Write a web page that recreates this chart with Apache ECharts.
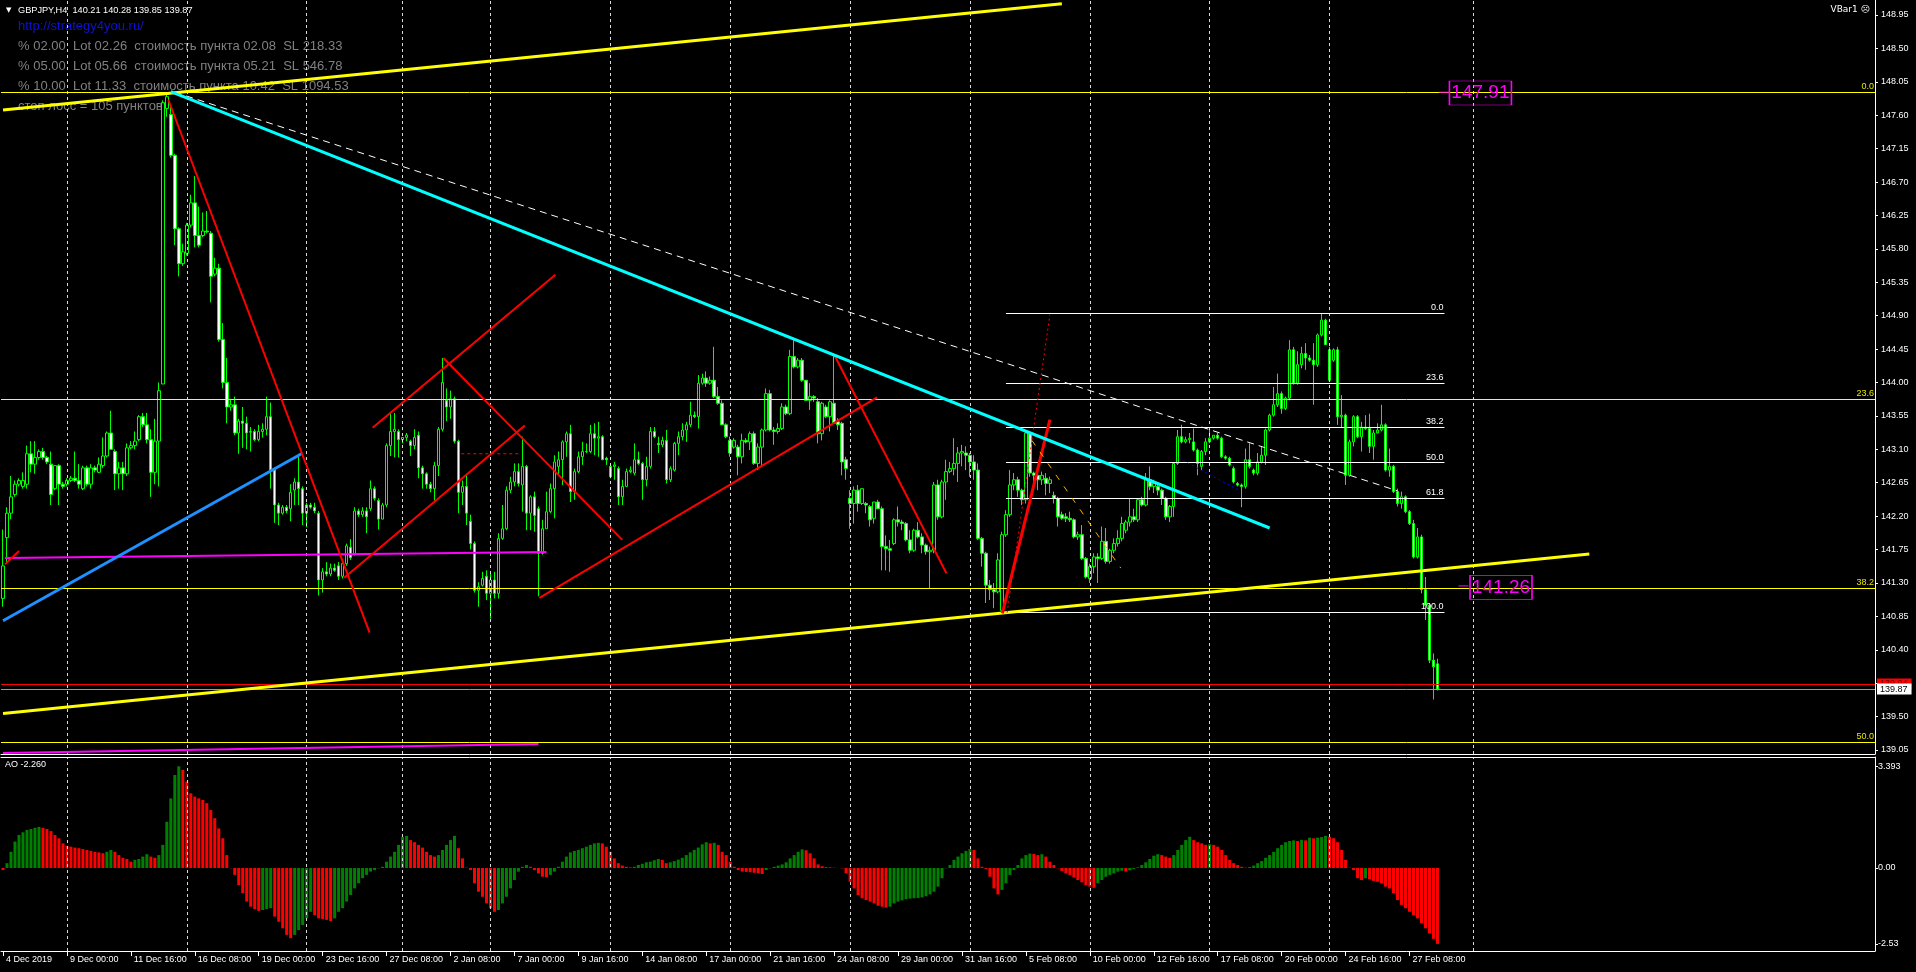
<!DOCTYPE html>
<html><head><meta charset="utf-8">
<script src="https://cdn.jsdelivr.net/npm/echarts@6.0.0/dist/echarts.min.js"></script>
<style>html,body{margin:0;padding:0;background:#000;overflow:hidden}#c{width:1916px;height:972px}</style>
</head><body><div id="c"></div>
<script>
// ---------- DATA (GBPJPY H4) ----------
const opens = [
141.09,141.91,142.24,142.49,142.63,142.60,142.63,143.04,142.90,142.99,
143.07,142.99,142.90,142.57,142.88,142.63,142.63,142.68,142.71,142.68,
142.57,142.85,142.63,142.85,142.79,142.88,143.01,143.32,143.07,142.77,
142.85,142.77,143.12,143.15,143.23,143.54,143.43,143.23,142.79,143.21,
143.98,147.69,147.61,147.06,146.07,145.60,145.74,146.12,146.42,145.98,
145.98,146.04,146.01,145.46,145.54,144.58,144.00,143.67,143.70,143.32,
143.48,143.45,143.33,143.34,143.23,143.34,143.37,143.54,142.82,142.35,
142.24,142.32,142.30,142.55,142.66,142.57,142.24,142.35,142.32,142.24,
141.34,141.45,141.42,141.50,141.53,141.39,141.56,141.78,141.69,142.27,
142.22,142.27,142.30,142.57,142.41,142.16,142.35,143.15,143.34,143.34,
143.23,143.26,143.21,143.15,143.29,142.85,142.77,142.63,142.57,142.88,
143.37,143.76,143.67,143.78,143.21,142.52,142.60,142.13,141.83,141.20,
141.27,141.39,141.16,141.34,141.16,141.90,142.03,142.55,142.66,142.80,
142.62,142.87,142.24,142.46,142.30,141.70,142.03,142.26,142.57,142.87,
142.96,143.20,143.31,142.53,142.80,143.00,143.07,143.07,143.31,143.25,
143.27,142.98,142.87,142.87,142.84,142.46,142.60,142.80,142.78,142.96,
142.91,142.69,142.87,143.34,143.18,143.16,143.22,142.69,142.82,143.18,
143.27,143.36,143.43,143.56,143.54,143.99,144.06,143.99,144.03,143.81,
143.72,143.43,143.22,143.13,143.13,143.00,143.22,143.20,143.31,142.91,
143.13,143.36,143.85,143.36,143.34,143.38,143.67,143.58,144.35,144.21,
144.30,144.03,143.76,143.81,143.74,143.31,143.67,143.54,143.72,143.47,
143.45,142.96,142.44,142.37,142.55,142.37,142.37,142.33,142.17,142.39,
142.30,141.79,141.76,141.83,142.15,142.12,142.10,141.88,141.74,142.01,
141.92,141.81,141.72,141.74,142.62,142.19,142.66,142.80,142.84,142.91,
143.05,143.05,143.02,142.93,142.82,141.90,141.70,141.27,141.21,141.18,
140.93,141.95,142.22,142.62,142.69,142.55,142.42,143.32,142.78,142.75,
142.69,142.71,142.64,142.48,142.44,142.22,142.19,142.17,142.15,141.92,
141.95,141.63,141.36,141.52,141.65,141.63,141.86,141.59,141.74,141.83,
141.90,142.01,142.12,142.19,142.15,142.42,142.35,142.69,142.60,142.60,
142.55,142.44,142.19,142.33,142.91,143.27,143.20,143.23,143.20,143.09,
142.87,143.07,143.20,143.25,143.29,143.25,143.00,142.98,142.84,142.64,
142.62,142.60,142.96,142.82,142.78,142.93,143.02,143.36,143.56,143.70,
143.85,143.65,143.79,144.44,143.99,144.24,144.39,144.33,144.30,144.24,
144.64,144.84,144.44,144.30,144.44,143.54,143.56,142.75,143.20,143.54,
143.27,143.40,143.38,143.14,143.32,143.36,143.43,142.82,142.87,142.53,
142.37,142.46,142.26,142.10,141.65,141.92,141.21,141.00,140.26,140.21];
const highs = [
142.02,142.32,142.74,142.68,142.71,142.79,143.15,143.21,143.21,143.10,
143.12,143.01,143.07,142.88,142.90,142.66,142.71,142.74,143.07,142.90,
142.88,142.88,142.90,142.88,142.99,143.26,143.34,143.62,143.10,142.93,
142.93,143.18,143.21,143.34,143.56,143.59,143.59,143.37,143.51,144.00,
147.80,147.88,147.74,147.08,146.09,145.87,146.15,146.53,146.78,146.37,
146.29,146.31,146.04,145.68,145.60,144.80,144.33,143.78,143.81,143.51,
143.67,143.54,143.40,143.37,143.43,143.45,143.81,143.73,142.85,142.38,
142.35,142.35,142.63,142.71,143.04,142.60,142.38,142.38,142.38,142.27,
141.50,141.58,141.56,141.56,141.58,141.58,141.83,141.89,142.32,142.30,
142.32,142.32,142.68,142.60,142.44,142.38,143.18,143.59,143.59,143.37,
143.26,143.32,143.23,143.37,143.34,142.88,142.79,142.66,142.93,143.40,
144.33,143.92,143.89,143.81,143.23,142.68,142.77,142.22,141.86,141.31,
141.45,141.47,141.43,141.45,141.97,142.35,142.60,142.73,142.91,142.91,
143.27,142.89,142.48,142.53,142.33,142.15,142.53,142.64,143.02,143.07,
143.22,143.34,143.43,142.84,143.07,143.20,143.18,143.43,143.45,143.47,
143.29,143.00,142.91,142.93,142.87,142.69,142.84,142.87,143.18,143.07,
142.93,143.00,143.40,143.40,143.27,143.27,143.36,142.87,143.20,143.34,
143.45,143.47,143.74,143.61,144.10,144.12,144.15,144.08,144.48,143.94,
143.76,143.45,143.27,143.25,143.16,143.31,143.25,143.34,143.34,143.18,
143.38,143.92,143.90,143.40,143.45,143.72,143.70,144.44,144.57,144.33,
144.33,144.03,143.99,143.83,143.79,143.74,143.70,143.76,144.37,143.52,
143.47,143.00,142.55,142.60,142.62,142.57,142.39,142.35,142.39,142.42,
142.33,141.94,141.88,142.17,142.33,142.15,142.12,142.01,142.03,142.12,
141.97,141.83,141.79,142.66,142.69,142.69,142.96,142.93,143.25,143.13,
143.16,143.14,143.05,143.02,142.91,141.92,141.72,141.34,141.30,141.70,
141.99,142.28,142.82,142.78,142.73,142.57,143.34,143.34,142.80,142.78,
142.80,142.78,142.73,142.53,142.46,142.26,142.24,142.26,142.17,141.99,
142.08,141.65,141.56,141.70,141.70,142.06,142.04,141.76,141.90,142.01,
142.19,142.15,142.44,142.30,142.44,142.46,142.78,142.87,142.69,142.64,
142.57,142.46,142.35,142.93,143.36,143.43,143.27,143.32,143.38,143.11,
143.09,143.25,143.36,143.29,143.32,143.27,143.02,143.00,142.87,142.66,
142.64,143.11,143.18,142.84,143.05,143.14,143.38,143.58,143.94,144.12,
143.88,143.81,144.57,144.48,144.42,144.48,144.53,144.37,144.53,144.66,
144.93,144.86,144.48,144.46,144.48,143.83,143.58,143.23,143.56,143.56,
143.47,143.56,143.58,143.36,143.45,143.70,143.45,143.11,142.89,142.57,
142.53,142.48,142.28,142.15,142.04,141.95,141.38,141.03,140.35,140.28];
const lows = [
140.98,141.58,142.16,142.46,142.60,142.57,142.57,142.79,142.77,142.96,
142.96,142.90,142.35,142.55,142.35,142.57,142.60,142.66,142.66,142.57,
142.55,142.60,142.57,142.79,142.78,142.85,142.99,143.10,142.55,142.57,
142.55,142.74,143.10,143.10,143.21,143.40,143.18,142.46,142.63,142.60,
143.98,147.58,147.03,145.85,145.43,145.57,145.71,146.09,145.82,145.82,
145.96,146.01,145.08,145.43,144.55,143.92,143.45,143.62,143.29,143.04,
143.12,143.10,143.07,143.21,143.21,143.26,143.29,142.57,142.11,142.08,
142.22,142.24,142.13,142.35,142.35,142.08,142.05,142.30,142.24,141.13,
141.17,141.39,141.39,141.45,141.34,141.36,141.53,141.61,141.67,142.19,
142.19,141.97,142.27,142.41,142.02,142.16,142.32,143.01,142.99,142.99,
143.18,143.21,143.01,143.10,142.71,142.57,142.57,142.52,142.41,142.74,
143.34,143.48,143.51,143.18,142.24,142.35,142.08,141.75,141.17,140.98,
141.25,141.07,140.82,141.09,141.09,141.88,142.01,142.51,142.60,142.60,
142.26,142.01,142.01,141.99,141.12,141.68,142.03,142.24,142.17,142.75,
142.62,143.00,142.39,142.42,142.78,142.89,143.05,143.05,143.02,143.00,
142.96,142.89,142.71,142.69,142.35,142.35,142.60,142.78,142.75,142.89,
142.42,142.60,142.84,143.25,143.05,143.13,142.64,142.66,142.80,143.02,
143.22,143.20,143.40,143.52,143.38,143.97,143.94,143.97,143.79,143.70,
143.43,143.25,143.00,143.11,142.75,142.91,143.18,143.09,142.89,142.82,
142.87,143.34,143.34,143.16,143.31,143.36,143.56,143.56,144.19,144.19,
144.01,143.76,143.63,143.74,143.18,143.22,143.52,143.34,143.45,143.36,
142.75,142.69,142.03,142.10,142.26,142.35,142.24,142.06,142.10,142.30,
141.47,141.47,141.45,141.81,142.06,142.01,141.86,141.70,141.72,141.90,
141.70,141.68,141.23,141.70,142.15,142.17,142.42,142.78,142.75,142.66,
142.87,142.82,142.73,142.69,141.88,141.52,141.03,141.07,140.96,141.16,
140.90,141.92,142.19,142.55,142.46,142.35,142.37,142.73,142.60,142.55,
142.62,142.48,142.51,142.37,142.06,142.15,142.12,142.12,141.90,141.88,
141.61,141.36,141.30,141.43,141.30,141.61,141.56,141.56,141.70,141.79,
141.86,141.97,142.06,142.12,142.12,142.33,142.33,142.55,142.51,142.48,
142.35,142.15,142.12,142.19,142.89,143.18,143.18,143.18,143.07,142.75,
142.82,143.02,143.18,143.23,143.23,142.98,142.96,142.87,142.64,142.60,
142.32,142.57,142.84,142.75,142.75,142.91,142.89,143.34,143.54,143.67,
143.58,143.63,143.76,143.97,143.97,144.19,144.17,144.28,143.70,144.21,
144.62,144.51,144.01,144.28,143.43,143.40,142.62,142.73,143.14,143.25,
143.07,143.36,143.05,142.96,143.32,143.34,142.80,142.73,142.51,142.33,
142.30,142.24,142.08,141.63,141.63,141.16,140.80,140.22,139.73,139.85];
const closes = [
141.53,142.24,142.46,142.63,142.68,142.68,143.04,142.90,142.99,143.07,
142.99,142.93,142.49,142.88,142.63,142.60,142.68,142.71,142.68,142.63,
142.85,142.63,142.85,142.82,142.90,143.01,143.32,143.10,142.77,142.85,
142.77,143.12,143.15,143.21,143.54,143.43,143.23,142.79,143.21,143.89,
147.77,147.85,147.06,146.07,145.60,145.76,146.12,146.42,145.98,145.85,
146.04,146.03,145.43,145.54,144.58,144.00,143.67,143.70,143.32,143.48,
143.45,143.32,143.34,143.23,143.34,143.37,143.54,142.82,142.35,142.24,
142.32,142.27,142.52,142.66,142.57,142.24,142.35,142.32,142.27,141.34,
141.45,141.42,141.50,141.47,141.39,141.56,141.80,141.64,142.27,142.22,
142.27,142.19,142.57,142.44,142.16,142.35,143.15,143.34,143.37,143.23,
143.26,143.29,143.15,143.26,142.85,142.77,142.63,142.57,142.88,143.37,
144.00,143.67,143.78,143.21,142.52,142.60,142.24,141.83,141.20,141.25,
141.36,141.16,141.34,141.16,141.90,142.03,142.55,142.66,142.80,142.64,
142.87,142.24,142.46,142.21,141.70,142.03,142.26,142.57,142.93,142.96,
143.20,143.31,142.53,142.80,143.00,143.07,143.07,143.31,143.25,143.27,
142.96,142.96,142.73,142.89,142.46,142.60,142.80,142.82,142.96,142.91,
142.69,142.87,143.34,143.27,143.16,143.22,142.69,142.84,143.18,143.27,
143.36,143.43,143.56,143.54,143.99,144.06,143.99,144.03,143.81,143.72,
143.43,143.27,143.05,143.22,143.00,143.22,143.20,143.31,142.91,143.13,
143.36,143.85,143.36,143.34,143.38,143.67,143.58,144.35,144.21,144.30,
144.03,143.76,143.81,143.79,143.31,143.72,143.54,143.74,143.45,143.43,
142.93,142.84,142.37,142.55,142.37,142.57,142.35,142.15,142.39,142.30,
141.79,141.76,141.74,142.15,142.12,142.10,141.88,141.74,142.01,141.92,
141.81,141.72,141.74,142.62,142.19,142.66,142.80,142.84,142.91,143.05,
143.07,143.02,142.93,142.82,141.90,141.70,141.27,141.21,141.18,141.61,
141.95,142.22,142.62,142.69,142.55,142.42,143.32,142.78,142.75,142.69,
142.75,142.64,142.69,142.44,142.19,142.17,142.17,142.15,141.92,141.95,
141.63,141.38,141.52,141.65,141.63,141.86,141.59,141.74,141.83,141.90,
142.10,142.12,142.19,142.15,142.42,142.35,142.69,142.60,142.64,142.55,
142.44,142.19,142.33,142.91,143.27,143.20,143.23,143.25,143.09,142.91,
143.07,143.20,143.25,143.29,143.25,143.00,142.98,142.89,142.66,142.62,
142.60,142.96,142.87,142.78,142.93,143.02,143.36,143.56,143.70,143.85,
143.65,143.79,144.44,143.99,144.24,144.39,144.33,144.30,144.24,144.64,
144.84,144.51,144.03,144.44,143.54,143.56,142.75,143.20,143.54,143.27,
143.40,143.38,143.14,143.32,143.36,143.43,142.82,142.87,142.53,142.37,
142.46,142.26,142.10,141.65,141.92,141.21,141.00,140.26,140.17,139.87];
// Awesome Oscillator values
const aoValues = [
-0.07,0.16,0.54,0.88,1.10,1.19,1.27,1.30,1.34,1.37,
1.34,1.30,1.23,1.10,0.99,0.82,0.74,0.71,0.68,0.66,
0.63,0.60,0.57,0.54,0.52,0.49,0.54,0.60,0.54,0.43,
0.34,0.30,0.21,0.27,0.30,0.38,0.46,0.38,0.34,0.43,
0.77,1.54,2.32,3.10,3.39,3.27,2.88,2.49,2.38,2.32,
2.27,2.16,1.93,1.66,1.32,0.99,0.43,-0.01,-0.23,-0.57,
-0.84,-1.12,-1.29,-1.37,-1.43,-1.40,-1.37,-1.34,-1.62,-1.79,
-2.01,-2.23,-2.34,-2.23,-2.07,-1.90,-1.68,-1.46,-1.57,-1.68,
-1.70,-1.73,-1.77,-1.68,-1.46,-1.34,-1.12,-0.90,-0.68,-0.51,
-0.34,-0.23,-0.12,-0.07,-0.01,0.04,0.21,0.38,0.54,0.77,
1.04,1.07,0.93,0.86,0.77,0.68,0.54,0.43,0.38,0.43,
0.60,0.77,0.93,1.07,0.66,0.32,0.01,-0.07,-0.51,-0.79,
-0.96,-1.18,-1.34,-1.46,-1.40,-1.18,-0.96,-0.68,-0.40,-0.12,
0.04,0.10,0.04,-0.07,-0.18,-0.29,-0.31,-0.23,-0.12,0.04,
0.21,0.38,0.52,0.57,0.60,0.66,0.71,0.77,0.82,0.84,
0.82,0.71,0.54,0.32,0.16,0.08,0.04,0.02,0.04,0.10,
0.14,0.19,0.21,0.26,0.30,0.27,0.16,0.19,0.23,0.28,
0.34,0.43,0.52,0.60,0.68,0.79,0.86,0.82,0.84,0.77,
0.54,0.43,0.21,0.04,-0.07,-0.12,-0.13,-0.14,-0.16,-0.18,
-0.20,-0.07,-0.01,0.04,0.08,0.12,0.19,0.32,0.43,0.54,
0.62,0.59,0.49,0.32,0.12,0.06,0.03,0.02,0.01,0.00,
-0.01,-0.18,-0.46,-0.68,-0.90,-1.01,-1.07,-1.12,-1.18,-1.26,
-1.29,-1.32,-1.29,-1.18,-1.12,-1.08,-1.04,-1.02,-1.01,-1.00,
-0.98,-0.94,-0.88,-0.79,-0.62,-0.34,-0.01,0.10,0.27,0.38,
0.49,0.57,0.63,0.60,0.32,0.04,-0.03,-0.29,-0.68,-0.88,
-0.73,-0.51,-0.23,-0.07,0.10,0.32,0.43,0.48,0.47,0.43,
0.46,0.38,0.21,0.10,-0.01,-0.10,-0.18,-0.23,-0.32,-0.40,
-0.48,-0.57,-0.62,-0.66,-0.51,-0.40,-0.29,-0.23,-0.18,-0.12,
-0.09,-0.12,-0.08,-0.03,0.02,0.10,0.19,0.30,0.41,0.46,
0.43,0.38,0.34,0.43,0.60,0.77,0.93,1.04,0.93,0.86,
0.82,0.77,0.79,0.77,0.71,0.60,0.43,0.27,0.16,0.10,
0.04,0.01,0.03,0.08,0.16,0.23,0.34,0.43,0.54,0.66,
0.77,0.86,0.90,0.92,0.90,0.94,0.92,1.01,0.99,1.01,
1.03,1.07,1.04,0.99,0.86,0.60,0.27,0.01,-0.07,-0.34,
-0.40,-0.34,-0.37,-0.43,-0.46,-0.51,-0.62,-0.68,-0.84,-1.07,
-1.23,-1.34,-1.46,-1.57,-1.68,-1.84,-2.01,-2.18,-2.36,-2.53];

const xTickLabels = ["4 Dec 2019","9 Dec 00:00","11 Dec 16:00","16 Dec 08:00","19 Dec 00:00","23 Dec 16:00","27 Dec 08:00","2 Jan 08:00","7 Jan 00:00","9 Jan 16:00","14 Jan 08:00","17 Jan 00:00","21 Jan 16:00","24 Jan 08:00","29 Jan 00:00","31 Jan 16:00","5 Feb 08:00","10 Feb 00:00","12 Feb 16:00","17 Feb 08:00","20 Feb 00:00","24 Feb 16:00","27 Feb 08:00"];
const priceTicks = [148.95,148.50,148.05,147.60,147.15,146.70,146.25,145.80,145.35,144.90,144.45,144.00,143.55,143.10,142.65,142.20,141.75,141.30,140.85,140.40,139.95,139.50,139.05];
const aoTicks = [3.393,0,-2.53];
const weekGridBars = [16,46,76,100,122,152,182,212,242,272,302,332,368];

const mainFibLevels = [147.91,143.78,141.23,139.16];
const mainFibNames = ["0.0","23.6","38.2","50.0"];
const febFibLevels = [144.93,143.99,143.40,142.92,142.44,140.905];
const febFibNames = ["0.0","23.6","38.2","50.0","61.8","100.0"];
const febFibSpan = [251,360.75];
const askPrice = 139.935, askText = "139.94";
const bidPrice = 139.87, bidText = "139.87";

const yellowTopLine = [[0,147.67],[265,149.10]];
const yellowBottomLine = [[0,139.54],[397,141.69]];
const cyanLine = [[42,147.917],[317,142.04]];
const whiteDashLine = [[43,147.91],[349,142.54]];
const blueLine = [[0,140.79],[74.7,143.04]];
const magentaUpper = [[0.5,141.636],[136,141.717]];
const magentaLower = [[0,139.01],[134,139.13]];
const redLines = [
  [[41.4,147.805],[91.75,140.63]],
  [[92.5,143.39],[138.25,145.45]],
  [[85.4,141.37],[130.6,143.42]],
  [[110.2,144.33],[155,141.88]],
  [[134.25,141.10],[218.75,143.80]],
  [[208.25,144.35],[236.1,141.43]],
  [[0.5,141.55],[4,141.73]]
];
const redSteepLine = [[250.1,140.89],[262,143.50]];
const redDottedLine = [[251.3,140.90],[262,144.91]];
const redDashLevel = [[114.7,143.04],[129.7,143.04]];
const goldDashLine = [[257.5,143.22],[279.75,141.50]];
const blueDotLine = [[294.25,142.98],[309.25,142.55]];
const magentaConnectors = [[[359.5,147.91],[362,147.91]],[[364.25,141.26],[366.75,141.26]]];
const priceBoxes = [{coord:[369.75,147.90],text:"147.91"},{coord:[374.9,141.24],text:"141.26"}];

const infoLines = ["% 02.00  Lot 02.26  стоимость пункта 02.08  SL 218.33",
                   "% 05.00  Lot 05.66  стоимость пункта 05.21  SL 546.78",
                   "% 10.00  Lot 11.33  стоимость пункта 10.42  SL 1094.53",
                   "стоп лосс = 105 пунктов"];

// ---------- CHART ----------
const N_SLOTS = 469;
const slots = Array.from({length:N_SLOTS},(_,i)=>String(i));
const FONT = '"Liberation Sans", Arial, sans-serif';
const chart = echarts.init(document.getElementById('c'));

function seg(pts, color, width, type, z){
  return {type:'line', xAxisIndex:2, yAxisIndex:0, data:pts, symbol:'none', showSymbol:false,
    silent:true, animation:false, z:z||5, lineStyle:{color:color, width:width, type:type||'solid'}};
}
const tickShown = (i)=> i%16===0 && i/16 < xTickLabels.length;

const series = [];
series.push({type:'line', xAxisIndex:2, yAxisIndex:0, data:[], z:1, silent:true,
  markLine:{silent:true, symbol:['none','none'], label:{show:false}, animation:false,
    lineStyle:{color:'#ffffff', width:1, type:[3,3], opacity:0.85}, data:weekGridBars.map(b=>({xAxis:b}))}});
series.push({type:'line', xAxisIndex:3, yAxisIndex:1, data:[], z:1, silent:true,
  markLine:{silent:true, symbol:['none','none'], label:{show:false}, animation:false,
    lineStyle:{color:'#ffffff', width:1, type:[3,3], opacity:0.85}, data:weekGridBars.map(b=>({xAxis:b}))}});
series.push({type:'line', xAxisIndex:2, yAxisIndex:0, data:[], z:2, silent:true,
  markLine:{silent:true, symbol:['none','none'], animation:false,
    lineStyle:{color:'#ffff00', width:1, type:'solid'},
    label:{show:true, position:'insideEndTop', color:'#e6e600', fontSize:9, fontFamily:FONT, distance:[1,1]},
    data:mainFibLevels.map((v,k)=>({yAxis:v, label:{formatter:mainFibNames[k]}}))}});
series.push({type:'line', xAxisIndex:2, yAxisIndex:0, data:[], z:2, silent:true,
  markLine:{silent:true, symbol:['none','none'], animation:false,
    lineStyle:{color:'#ffffff', width:1, type:'solid'},
    label:{show:true, position:'insideEndTop', color:'#ffffff', fontSize:9, fontFamily:FONT, distance:[1,1]},
    data:febFibLevels.map((v,k)=>[{coord:[febFibSpan[0],v], label:{formatter:febFibNames[k]}},{coord:[febFibSpan[1],v]}])}});
series.push({type:'candlestick', xAxisIndex:0, yAxisIndex:0, barWidth:3, z:4, animation:false,
  data: opens.map((o,i)=>[o, closes[i], lows[i], highs[i]]),
  itemStyle:{color:'#000000', color0:'#ffffff', borderColor:'#00ff00', borderColor0:'#00ff00', borderWidth:1}});
series.push({type:'bar', xAxisIndex:1, yAxisIndex:1, barWidth:3, animation:false, z:3,
  data: aoValues.map((v,i)=>({value:v, itemStyle:{color:(i>0 && v>aoValues[i-1])?'#008000':'#ff0000'}}))});
series.push(seg(yellowTopLine,'#ffff00',3));
series.push(seg(yellowBottomLine,'#ffff00',3));
series.push(seg(magentaUpper,'#ff00ff',2));
series.push(seg(magentaLower,'#ff00ff',2));
series.push(seg(blueLine,'#1e90ff',3));
series.push(seg(whiteDashLine,'#ffffff',1,[7,5]));
series.push(seg(cyanLine,'#00ffff',3,'solid',6));
redLines.forEach(l=>series.push(seg(l,'#ff0000',2)));
series.push(seg(redSteepLine,'#ff0000',3));
series.push(seg(redDottedLine,'#ff0000',1,[2,3]));
series.push(seg(redDashLevel,'#ff0000',1,[3,3]));
series.push(seg(goldDashLine,'#ffb000',1,[6,8]));
series.push(seg(blueDotLine,'#0000ff',1,[2,3]));
magentaConnectors.forEach(l=>series.push(seg(l,'#ff00ff',1)));
series.push({type:'line', xAxisIndex:2, yAxisIndex:0, data:[], z:7, silent:true,
  markPoint:{silent:true, animation:false, symbol:'rect', symbolSize:[62,24],
    itemStyle:{color:'rgba(0,0,0,0)', borderColor:'#ff00ff', borderWidth:1},
    label:{show:true, position:'inside', color:'#ff00ff', fontSize:19, fontFamily:FONT},
    data: priceBoxes.map(b=>({coord:b.coord, label:{formatter:b.text}}))}});
series.push({type:'line', xAxisIndex:2, yAxisIndex:0, data:[], z:8, silent:true,
  markLine:{silent:true, symbol:['none','none'], animation:false,
    data:[
      {yAxis:askPrice, lineStyle:{color:'#ff0000', width:1, type:'solid'},
       label:{show:true, position:'end', formatter:askText, color:'#700000', backgroundColor:'#ff0000', fontSize:9, fontFamily:FONT, padding:[1,4,1,3], distance:2}},
      {yAxis:bidPrice, lineStyle:{color:'#9a9a9a', width:1, type:'solid'},
       label:{show:true, position:'end', formatter:bidText, color:'#000000', backgroundColor:'#ffffff', fontSize:9, fontFamily:FONT, padding:[1,4,1,3], distance:2}}
    ]}});

const gray = '#808080';
const graphic = [
  {type:'text', x:6, y:10, z:0, style:{text:'▼', fill:'#ffffff', font:'7px "DejaVu Sans"', verticalAlign:'middle'}},
  {type:'text', x:18, y:10, z:0, style:{text:'GBPJPY,H4  140.21 140.28 139.85 139.87', fill:'#ffffff', font:'9.2px '+FONT, verticalAlign:'middle'}},
  {type:'text', x:18, y:26, z:0, style:{text:'http://strategy4you.ru/', fill:'#1010d8', font:'13px '+FONT, verticalAlign:'middle'}},
  {type:'text', x:1870, y:10, z:0, style:{text:'VBar1 ☹', fill:'#ffffff', font:'9px "DejaVu Sans"', align:'right', verticalAlign:'middle'}},
  {type:'text', x:5, y:765, z:0, style:{text:'AO -2.260', fill:'#ffffff', font:'9px '+FONT, verticalAlign:'middle'}}
];
infoLines.forEach((t,k)=>graphic.push({type:'text', x:18, y:46+20*k, z:0, style:{text:t, fill:gray, font:'13px '+FONT, verticalAlign:'middle'}}));

chart.setOption({
  backgroundColor:'#000000',
  animation:false,
  grid:[{left:1, top:0, width:1874, height:754, outerBoundsMode:'none'},
        {left:1, top:757, width:1874, height:194, outerBoundsMode:'none'}],
  xAxis:[
    {type:'category', gridIndex:0, data:slots, boundaryGap:true,
     axisLine:{show:true, onZero:false, lineStyle:{color:'#ffffff', width:1}}, axisTick:{show:false}, axisLabel:{show:false}, splitLine:{show:false}},
    {type:'category', gridIndex:1, data:slots, boundaryGap:true,
     axisLine:{show:true, onZero:false, lineStyle:{color:'#ffffff', width:1}},
     axisTick:{show:true, alignWithLabel:true, interval:(i)=>tickShown(i), length:5, lineStyle:{color:'#ffffff'}},
     axisLabel:{show:true, interval:(i)=>tickShown(i), formatter:(v,i)=>xTickLabels[i/16], color:'#ffffff', fontSize:9, fontFamily:FONT, align:'left', margin:4, padding:[0,0,0,3]},
     splitLine:{show:false}},
    {type:'value', gridIndex:0, min:-0.5, max:N_SLOTS-0.5, show:false},
    {type:'value', gridIndex:1, min:-0.5, max:N_SLOTS-0.5, position:'top',
     axisLine:{show:true, onZero:false, lineStyle:{color:'#ffffff', width:1}}, axisTick:{show:false}, axisLabel:{show:false}, splitLine:{show:false}}
  ],
  yAxis:[
    {type:'value', gridIndex:0, position:'right', min:138.996, max:149.152,
     splitLine:{show:false},
     axisLine:{show:true, onZero:false, lineStyle:{color:'#ffffff', width:1}},
     axisTick:{show:true, customValues:priceTicks, length:3, lineStyle:{color:'#ffffff'}},
     axisLabel:{show:true, customValues:priceTicks, formatter:(v)=>Number(v).toFixed(2), color:'#ffffff', fontSize:9, fontFamily:FONT, margin:6}},
    {type:'value', gridIndex:1, position:'right', min:-2.767, max:3.70,
     splitLine:{show:false},
     axisLine:{show:true, onZero:false, lineStyle:{color:'#ffffff', width:1}},
     axisTick:{show:true, customValues:aoTicks, length:3, lineStyle:{color:'#ffffff'}},
     axisLabel:{show:true, customValues:aoTicks, formatter:(v)=> (Math.abs(v-3.393)<1e-6 ? '3.393' : Number(v).toFixed(2)), color:'#ffffff', fontSize:9, fontFamily:FONT, margin:3}}
  ],
  graphic: graphic,
  series: series
});
</script>
</body></html>
